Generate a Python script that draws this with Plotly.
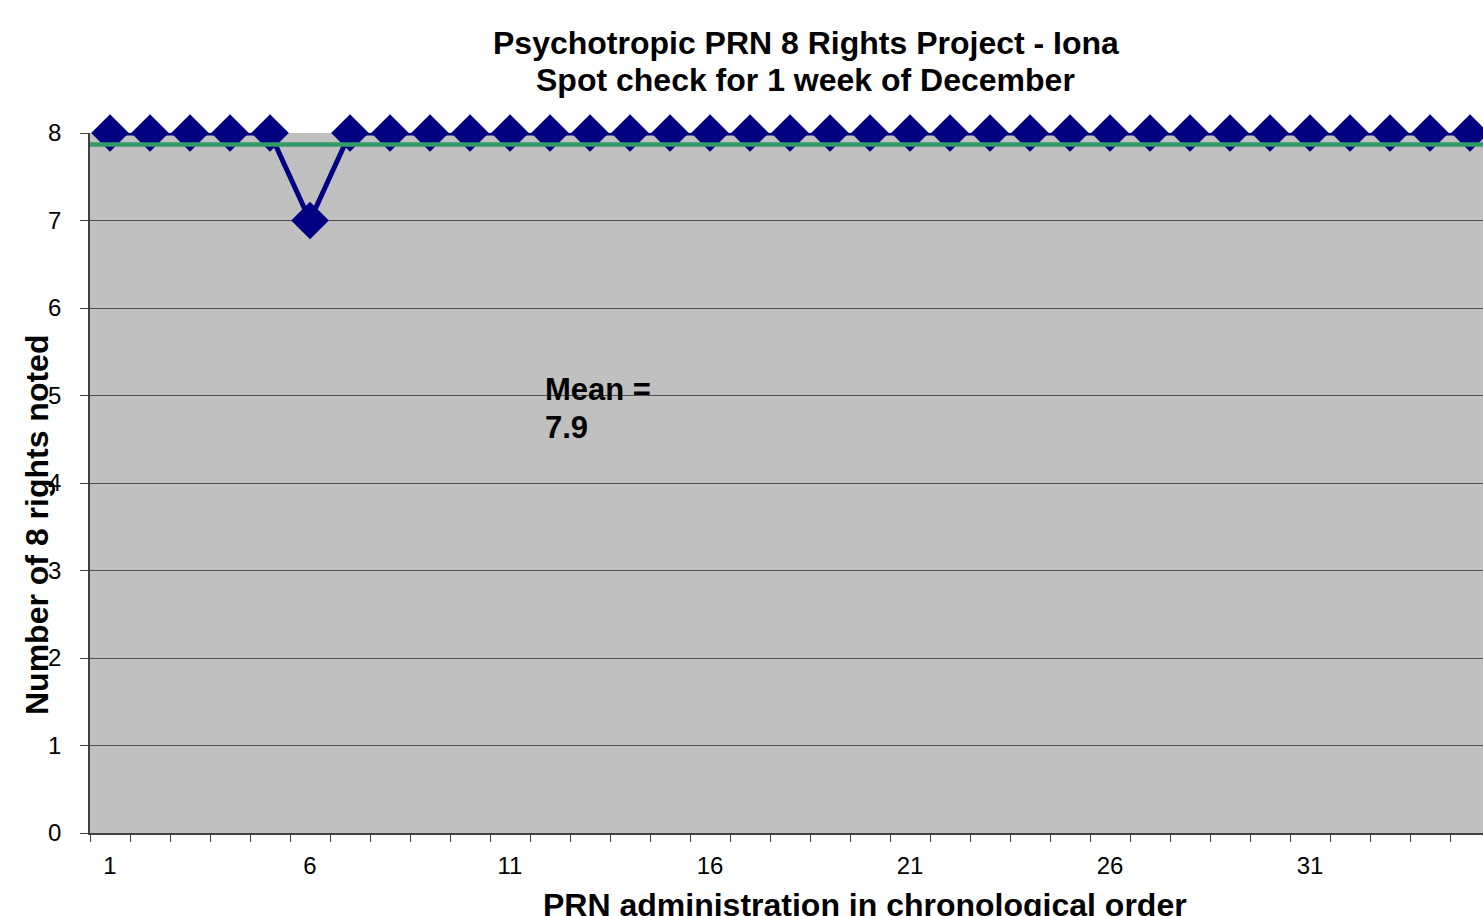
import plotly.graph_objects as go

# ---- data ----
administrations = list(range(1, 36))
rights_noted = [8, 8, 8, 8, 8, 7, 8, 8, 8, 8, 8, 8, 8, 8, 8, 8, 8, 8,
                8, 8, 8, 8, 8, 8, 8, 8, 8, 8, 8, 8, 8, 8, 8, 8, 8]
mean_value = 7.87
mean_label = ["Mean =", "7.9"]
x_tick_labels = [1, 6, 11, 16, 21, 26, 31]
y_ticks = [0, 1, 2, 3, 4, 5, 6, 7, 8]

FONT = "Liberation Sans, Arial, sans-serif"
NAVY = "#000080"
GREEN = "#339966"

fig = go.Figure()

fig.add_trace(go.Scatter(
    x=administrations, y=rights_noted, mode="lines+markers",
    line=dict(color=NAVY, width=5),
    marker=dict(symbol="diamond", size=29, color=NAVY),
    cliponaxis=False, showlegend=False, hoverinfo="x+y",
))

fig.add_trace(go.Scatter(
    x=[administrations[0] - 0.5, administrations[-1] + 0.5],
    y=[mean_value, mean_value], mode="lines",
    line=dict(color=GREEN, width=4.5),
    cliponaxis=True, showlegend=False, hoverinfo="skip",
))

W, H = 1483, 916
L, T, B = 90, 133, 83
plot_w = W - L
plot_h = H - T - B

fig.update_layout(
    width=W, height=H,
    margin=dict(l=L, r=0, t=T, b=B, pad=0),
    paper_bgcolor="white", plot_bgcolor="#C0C0C0",
    font=dict(family=FONT, color="black", size=24),
    showlegend=False,
)

fig.update_xaxes(
    range=[0.5, 0.5 + plot_w / 40.0],
    tickmode="array", tickvals=x_tick_labels,
    ticktext=[str(v) for v in x_tick_labels],
    ticks="", ticklabelstandoff=10,
    tickfont=dict(size=24, family=FONT),
    showgrid=False, zeroline=False,
    showline=True, linecolor="#404040", linewidth=1.5,
    minor=dict(tick0=0.5, dtick=1, ticks="outside", ticklen=7,
               tickcolor="#404040", tickwidth=1.2, showgrid=False),
)

fig.update_yaxes(
    range=[0, 8], tickmode="array", tickvals=y_ticks,
    ticks="outside", ticklen=8, tickcolor="#404040", tickwidth=1.2,
    ticklabelstandoff=14,
    tickfont=dict(size=24, family=FONT),
    showgrid=True, gridcolor="#505050", gridwidth=1,
    zeroline=False,
    showline=True, linecolor="#404040", linewidth=1.5,
)

def px_x(px):
    return (px - L) / plot_w

def px_y(py):
    return (H - B - py) / plot_h

annots = [
    dict(text="<b>Psychotropic PRN 8 Rights Project - Iona</b>", x=px_x(806), y=px_y(43),
         size=32, xanchor="center", yanchor="middle"),
    dict(text="<b>Spot check for 1 week of December</b>", x=px_x(806), y=px_y(80),
         size=32, xanchor="center", yanchor="middle"),
    dict(text="<b>PRN administration in chronological order</b>", x=px_x(865), y=px_y(905),
         size=32, xanchor="center", yanchor="middle"),
    dict(text="<b>" + mean_label[0] + "</b>", x=px_x(543), y=px_y(389),
         size=31, xanchor="left", yanchor="middle"),
    dict(text="<b>" + mean_label[1] + "</b>", x=px_x(543), y=px_y(428),
         size=31, xanchor="left", yanchor="middle"),
]
for a in annots:
    fig.add_annotation(text=a["text"], x=a["x"], y=a["y"], xref="paper", yref="paper",
                       showarrow=False, xanchor=a["xanchor"], yanchor=a["yanchor"],
                       font=dict(family=FONT, size=a["size"], color="black"))

fig.add_annotation(text="<b>Number of 8 rights noted</b>", x=px_x(37), y=px_y(525),
                   xref="paper", yref="paper", showarrow=False, textangle=-90,
                   xanchor="center", yanchor="middle",
                   font=dict(family=FONT, size=32, color="black"))

fig.write_html(
    "out.html",
    config={"displayModeBar": False},
    post_script="document.body.style.margin='0';document.body.style.overflow='hidden';",
)
